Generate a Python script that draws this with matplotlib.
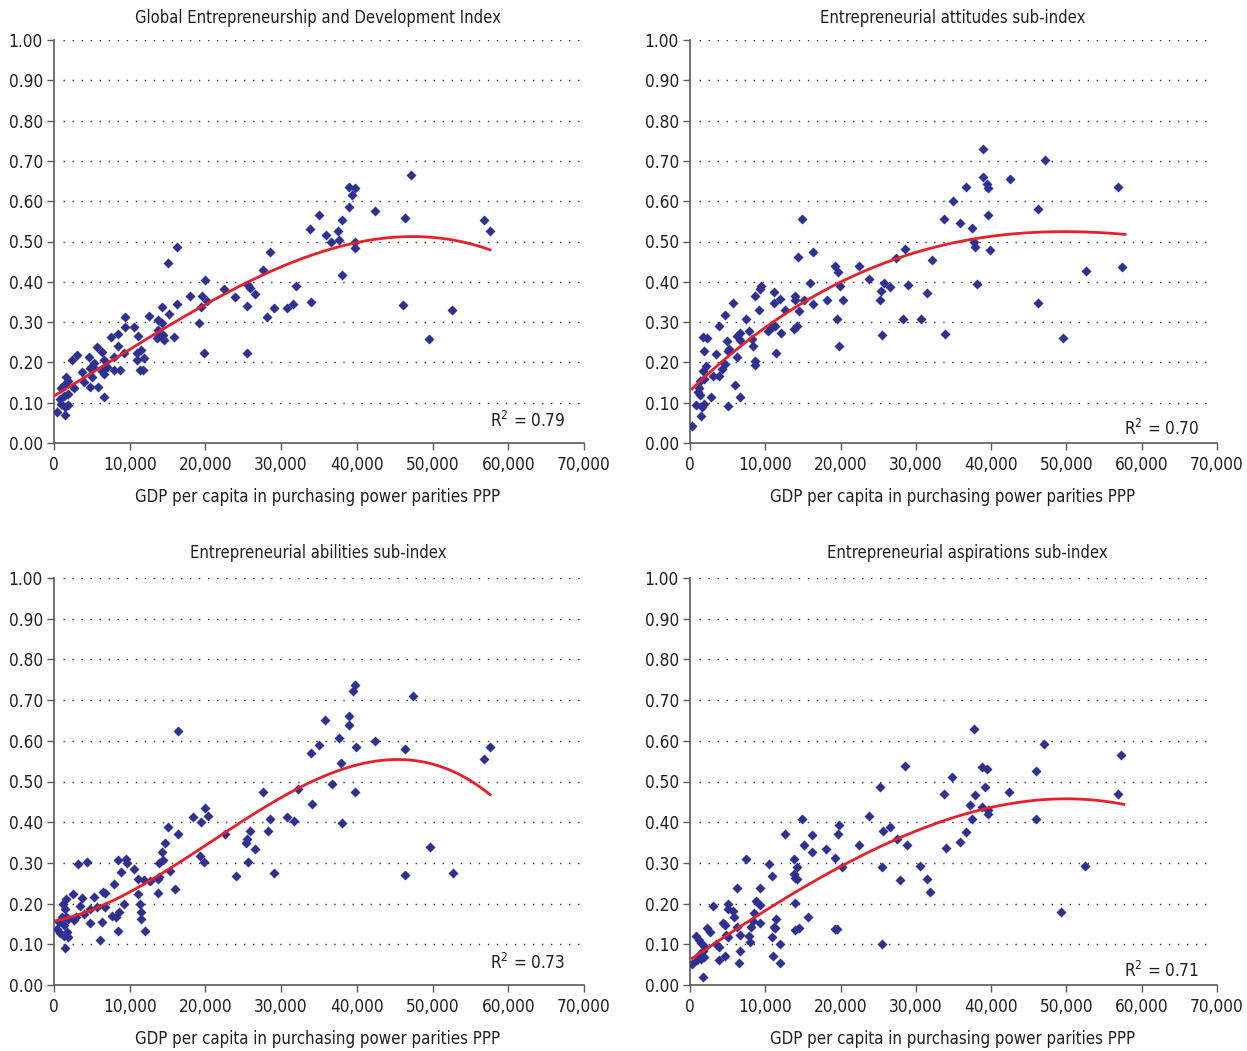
import numpy as np
import matplotlib
matplotlib.use("Agg")
import matplotlib.pyplot as plt
from matplotlib.ticker import FuncFormatter

plt.rcParams['font.family'] = ['DejaVu Sans']
plt.rcParams['font.stretch'] = 'condensed'

# ---------------- data (GDP per capita PPP, index value) ----------------
gedi_gdp = [400, 1400, 900, 1400, 1900, 800, 1300, 1800, 900, 1300, 1800, 1600, 2600, 2400,
            3100, 3700, 4000, 4600, 4800, 5100, 5300, 5000, 4700, 5800, 5700, 6400, 6600, 6300,
            6600, 7000, 6600, 7500, 7900, 7900, 8400, 8500, 8700, 9200, 9400, 9400, 10500, 11100,
            11000, 11500, 11900, 11000, 11400, 11800, 12600, 13700, 14200, 13800, 13900, 14400,
            13600, 14500, 14200, 15200, 15800, 16300, 16300, 15100, 18000, 19600, 20200, 19400,
            19200, 19800, 20000, 22500,
            23900, 25500, 25600, 25900, 26600, 25500, 27600, 28500, 28100, 29000, 30800, 31600,
            32000, 33900, 33800, 35000, 35900, 36600, 37500, 37700, 38000, 38000, 38900, 38900,
            39400, 39700, 39800, 39800, 42400, 46100, 46300, 47200, 49500, 52600, 56800, 57600]
gedi_val = [0.077, 0.070, 0.098, 0.090, 0.095, 0.110, 0.117, 0.122, 0.136, 0.145, 0.154, 0.164,
            0.136, 0.205, 0.218, 0.175, 0.152, 0.214, 0.185, 0.188, 0.199, 0.163, 0.140, 0.140,
            0.238, 0.227, 0.205, 0.178, 0.172, 0.188, 0.113, 0.263, 0.213, 0.181, 0.240, 0.270,
            0.181, 0.224, 0.312, 0.289, 0.287, 0.266, 0.224, 0.230, 0.212, 0.206, 0.181, 0.181,
            0.316, 0.306, 0.299, 0.281, 0.266, 0.268, 0.261, 0.256, 0.338, 0.321, 0.262, 0.344,
            0.487, 0.447, 0.365, 0.365, 0.352, 0.338, 0.298, 0.224, 0.404, 0.381,
            0.362, 0.224, 0.392, 0.385, 0.369, 0.339, 0.429, 0.474, 0.313, 0.336, 0.336, 0.346,
            0.389, 0.349, 0.530, 0.566, 0.517, 0.500, 0.526, 0.503, 0.553, 0.418, 0.636, 0.585,
            0.616, 0.632, 0.500, 0.484, 0.576, 0.342, 0.559, 0.665, 0.257, 0.329, 0.553, 0.526]

att_gdp = [38900, 47100, 38900, 42500, 39500, 39600, 36600, 56900, 34900, 46200, 39600, 33800,
           14900, 35800, 37500, 37700, 37900, 39800, 28500, 27400, 32100, 14300, 16300, 22500,
           19300, 19600, 57400, 52600, 23800, 25800, 26600, 29000, 38100, 15900, 19900, 31500,
           25400, 18200, 20300, 25300, 15200, 16300, 14500, 46200, 19500, 28300, 30700, 25500,
           33900, 49500, 19800, 9400, 9300, 8600, 9200, 5700, 11100, 11900, 11200, 12600, 13900,
           13900, 13800, 14200, 10900, 11300, 10400, 12100, 11400, 7500, 7900, 8200, 8400, 8700,
           8700, 4700, 3800, 6200, 6700, 6700, 4900, 5200, 3500, 5100, 6300, 4700, 4200, 3100,
           3900, 6000, 6600, 5000, 2800, 1700, 2300, 1900, 2100, 1700, 1900, 1300, 1200, 1100,
           1300, 800, 1900, 1600, 1400, 300]
att_val = [0.730, 0.702, 0.659, 0.656, 0.643, 0.633, 0.634, 0.636, 0.601, 0.581, 0.566, 0.556,
           0.556, 0.546, 0.533, 0.500, 0.486, 0.478, 0.481, 0.460, 0.455, 0.462, 0.475, 0.439,
           0.439, 0.425, 0.436, 0.426, 0.406, 0.397, 0.387, 0.391, 0.394, 0.397, 0.389, 0.371,
           0.378, 0.354, 0.354, 0.354, 0.354, 0.345, 0.328, 0.348, 0.308, 0.308, 0.308, 0.267,
           0.270, 0.261, 0.241, 0.389, 0.381, 0.364, 0.331, 0.348, 0.374, 0.358, 0.348, 0.330,
           0.364, 0.354, 0.282, 0.290, 0.287, 0.290, 0.277, 0.274, 0.224, 0.308, 0.279, 0.259,
           0.241, 0.203, 0.193, 0.318, 0.290, 0.265, 0.272, 0.256, 0.254, 0.234, 0.221, 0.228,
           0.213, 0.196, 0.183, 0.167, 0.167, 0.143, 0.115, 0.092, 0.115, 0.264, 0.261, 0.228,
           0.190, 0.178, 0.158, 0.155, 0.137, 0.127, 0.120, 0.094, 0.096, 0.089, 0.066, 0.043]

abil_gdp = [39700, 39500, 47400, 39000, 39000, 35800, 37600, 42400, 35000, 39900, 46300, 57600,
            33900, 56800, 37900, 16400, 36700, 39700, 27600, 32200, 34100, 30800, 31700, 28500,
            28200, 38100, 20000, 20400, 18300, 19400, 22600, 25900, 25500, 25400, 26600, 25600,
            24000, 29000, 46300, 52700, 49600, 15100, 16400, 14600, 14200, 14400, 13900, 15300,
            19300, 19800, 16000, 13900, 13800, 12700, 11900, 11100, 10500, 11100, 11300, 11500,
            11500, 12000, 13800, 8400, 8900, 9500, 9700, 7900, 9300, 8600, 8200, 8400, 4400, 3200,
            6500, 6700, 6800, 5300, 3700, 2500, 5700, 4700, 3900, 4700, 6300, 6100, 7600, 1600,
            1200, 1400, 1000, 1600, 1900, 600, 1300, 400, 800, 1700, 1300, 1900, 1500, 2900, 2600,
            3400]
abil_val = [0.736, 0.723, 0.710, 0.661, 0.639, 0.652, 0.607, 0.600, 0.590, 0.584, 0.581, 0.584,
            0.571, 0.555, 0.546, 0.623, 0.493, 0.474, 0.475, 0.481, 0.445, 0.414, 0.404, 0.407,
            0.378, 0.397, 0.436, 0.416, 0.414, 0.400, 0.371, 0.379, 0.359, 0.348, 0.333, 0.303,
            0.268, 0.275, 0.271, 0.275, 0.339, 0.388, 0.371, 0.348, 0.326, 0.307, 0.300, 0.281,
            0.318, 0.302, 0.236, 0.266, 0.261, 0.256, 0.258, 0.260, 0.284, 0.223, 0.198, 0.180,
            0.162, 0.133, 0.226, 0.307, 0.278, 0.309, 0.300, 0.249, 0.198, 0.180, 0.166, 0.133,
            0.303, 0.297, 0.229, 0.225, 0.192, 0.217, 0.214, 0.223, 0.192, 0.187, 0.174, 0.152,
            0.155, 0.111, 0.170, 0.212, 0.198, 0.187, 0.168, 0.166, 0.161, 0.154, 0.148, 0.138,
            0.127, 0.130, 0.120, 0.117, 0.092, 0.166, 0.160, 0.193]

asp_gdp = [37700, 47000, 57300, 28500, 38800, 39400, 46000, 34800, 25200, 39200, 42400, 33700,
           56800, 37900, 37200, 38800, 39600, 39600, 37500, 46000, 14900, 23800, 19800, 26500,
           25700, 36600, 12600, 19600, 16200, 27500, 35800, 15200, 22500, 28800, 34000, 18000,
           16200, 19300, 7500, 13800, 10500, 20200, 14200, 25500, 30600, 52500, 13800, 14000,
           14200, 10900, 31500, 27900, 31900, 6300, 9300, 13900, 8800, 9300, 5000, 3000, 5100,
           5700, 8500, 5900, 11400, 15700, 9300, 4400, 4700, 8400, 8100, 6200, 11200, 11300,
           13900, 14500, 19500, 19200, 2300, 2600, 4800, 6600, 5100, 7800, 8000, 3400, 3800,
           10900, 12000, 800, 1200, 1500, 2000, 1700, 1300, 1800, 900, 300, 1500, 3800, 4700,
           6600, 6500, 11000, 12000, 1700, 25500, 49300]
asp_val = [0.630, 0.591, 0.565, 0.539, 0.536, 0.530, 0.526, 0.510, 0.487, 0.487, 0.473, 0.470,
           0.470, 0.466, 0.443, 0.438, 0.421, 0.431, 0.408, 0.408, 0.408, 0.415, 0.392, 0.389,
           0.379, 0.375, 0.372, 0.372, 0.369, 0.359, 0.352, 0.343, 0.343, 0.343, 0.336, 0.333,
           0.326, 0.313, 0.310, 0.310, 0.297, 0.290, 0.290, 0.290, 0.293, 0.293, 0.272, 0.264,
           0.260, 0.267, 0.261, 0.258, 0.229, 0.239, 0.239, 0.202, 0.206, 0.196, 0.199, 0.193,
           0.186, 0.183, 0.178, 0.166, 0.163, 0.166, 0.153, 0.153, 0.148, 0.157, 0.143, 0.143,
           0.142, 0.139, 0.134, 0.139, 0.137, 0.137, 0.140, 0.130, 0.124, 0.124, 0.117, 0.120,
           0.106, 0.101, 0.093, 0.117, 0.101, 0.120, 0.111, 0.102, 0.094, 0.084, 0.075, 0.070,
           0.061, 0.052, 0.065, 0.061, 0.071, 0.084, 0.055, 0.071, 0.055, 0.019, 0.101, 0.180]

# trend lines (GDP, fitted value)
gedi_trend_gdp = [130, 10000, 20000, 23300, 30000, 40000, 46700, 57600]
gedi_trend_val = [0.119, 0.230, 0.343, 0.380, 0.4375, 0.498, 0.510, 0.480]
att_trend_gdp = [300, 5000, 10000, 20000, 30000, 40000, 51400, 57800]
att_trend_val = [0.133, 0.218, 0.285, 0.395, 0.479, 0.510, 0.524, 0.518]
abil_trend_gdp = [100, 10000, 20000, 30000, 40000, 44600, 50000, 57600]
abil_trend_val = [0.160, 0.221, 0.348, 0.463, 0.539, 0.553, 0.541, 0.469]
asp_trend_gdp = [300, 10000, 20000, 30000, 40000, 49500, 57600]
asp_trend_val = [0.066, 0.180, 0.295, 0.377, 0.434, 0.460, 0.443]

titles = ["Global Entrepreneurship and Development Index",
          "Entrepreneurial attitudes sub-index",
          "Entrepreneurial abilities sub-index",
          "Entrepreneurial aspirations sub-index"]
r2_labels = ["0.79", "0.70", "0.73", "0.71"]
x_label = "GDP per capita in purchasing power parities PPP"
x_ticks = [0, 10000, 20000, 30000, 40000, 50000, 60000, 70000]
y_ticks = [0.0, 0.1, 0.2, 0.3, 0.4, 0.5, 0.6, 0.7, 0.8, 0.9, 1.0]

series = [(gedi_gdp, gedi_val), (att_gdp, att_val), (abil_gdp, abil_val), (asp_gdp, asp_val)]
trends = [(gedi_trend_gdp, gedi_trend_val), (att_trend_gdp, att_trend_val),
          (abil_trend_gdp, abil_trend_val), (asp_trend_gdp, asp_trend_val)]

# ---------------- layout ----------------
W, H = 1247, 1051
fig = plt.figure(figsize=(W / 100, H / 100), dpi=100)

# axes boxes in pixels: (left, right, top, bottom)
boxes = [(54, 584, 40, 443), (690, 1217, 40, 443), (54, 584, 578, 985), (690, 1217, 578, 985)]
title_pos = [(318, 18), (953, 18), (318, 553), (967, 553)]
xlabel_pos = [(318, 497), (953, 497), (318, 1039), (953, 1039)]
r2_pos = [(565, 421), (1199, 429), (565, 963), (1199, 971)]

marker_color = '#2E3192'
line_color = '#E8202A'
axis_color = '#58595B'
text_color = '#231F20'

for i, (gdp, val) in enumerate(series):
    l, r, t, b = boxes[i]
    ax = fig.add_axes([l / W, 1 - b / H, (r - l) / W, (b - t) / H])
    gdp = np.array(gdp, dtype=float)
    val = np.array(val, dtype=float)

    ax.set_xlim(0, 70000)
    ax.set_ylim(0, 1.0)
    ax.set_xticks(x_ticks)
    ax.set_yticks(y_ticks)
    ax.xaxis.set_major_formatter(FuncFormatter(lambda v, p: f"{v:,.0f}"))
    ax.yaxis.set_major_formatter(FuncFormatter(lambda v, p: f"{v:.2f}"))
    for s in ['top', 'right']:
        ax.spines[s].set_visible(False)
    for s in ['left', 'bottom']:
        ax.spines[s].set_color(axis_color)
        ax.spines[s].set_linewidth(1.2)
    ax.tick_params(axis='both', colors=axis_color, labelcolor=text_color, labelsize=12.3,
                   length=5, width=1.0, direction='out')
    ax.tick_params(axis='y', pad=3)
    ax.tick_params(axis='x', pad=4)

    # dotted gridlines
    for yv in y_ticks[1:]:
        ax.plot([1200, 69300], [yv, yv], linestyle=(0, (1, 5.5)), color='#333333',
                linewidth=1.0, zorder=1)

    ax.scatter(gdp, val, marker='D', s=26, color=marker_color, linewidths=0, zorder=3)

    tx = np.array(trends[i][0], dtype=float)
    ty = np.array(trends[i][1], dtype=float)
    coef = np.polyfit(tx, ty, 3)
    xs = np.linspace(tx.min(), tx.max(), 300)
    ax.plot(xs, np.polyval(coef, xs), color=line_color, linewidth=2.0, zorder=4)

    fig.text(title_pos[i][0] / W, 1 - title_pos[i][1] / H, titles[i], ha='center', va='center',
             fontsize=11.9, color=text_color)
    fig.text(xlabel_pos[i][0] / W, 1 - xlabel_pos[i][1] / H, x_label, ha='center', va='center',
             fontsize=12.1, color=text_color)
    fig.text(r2_pos[i][0] / W, 1 - r2_pos[i][1] / H, f"R$^2$ = {r2_labels[i]}", ha='right',
             va='center', fontsize=12.3, color=text_color)

fig.savefig("out.png", dpi=100, facecolor='white')
